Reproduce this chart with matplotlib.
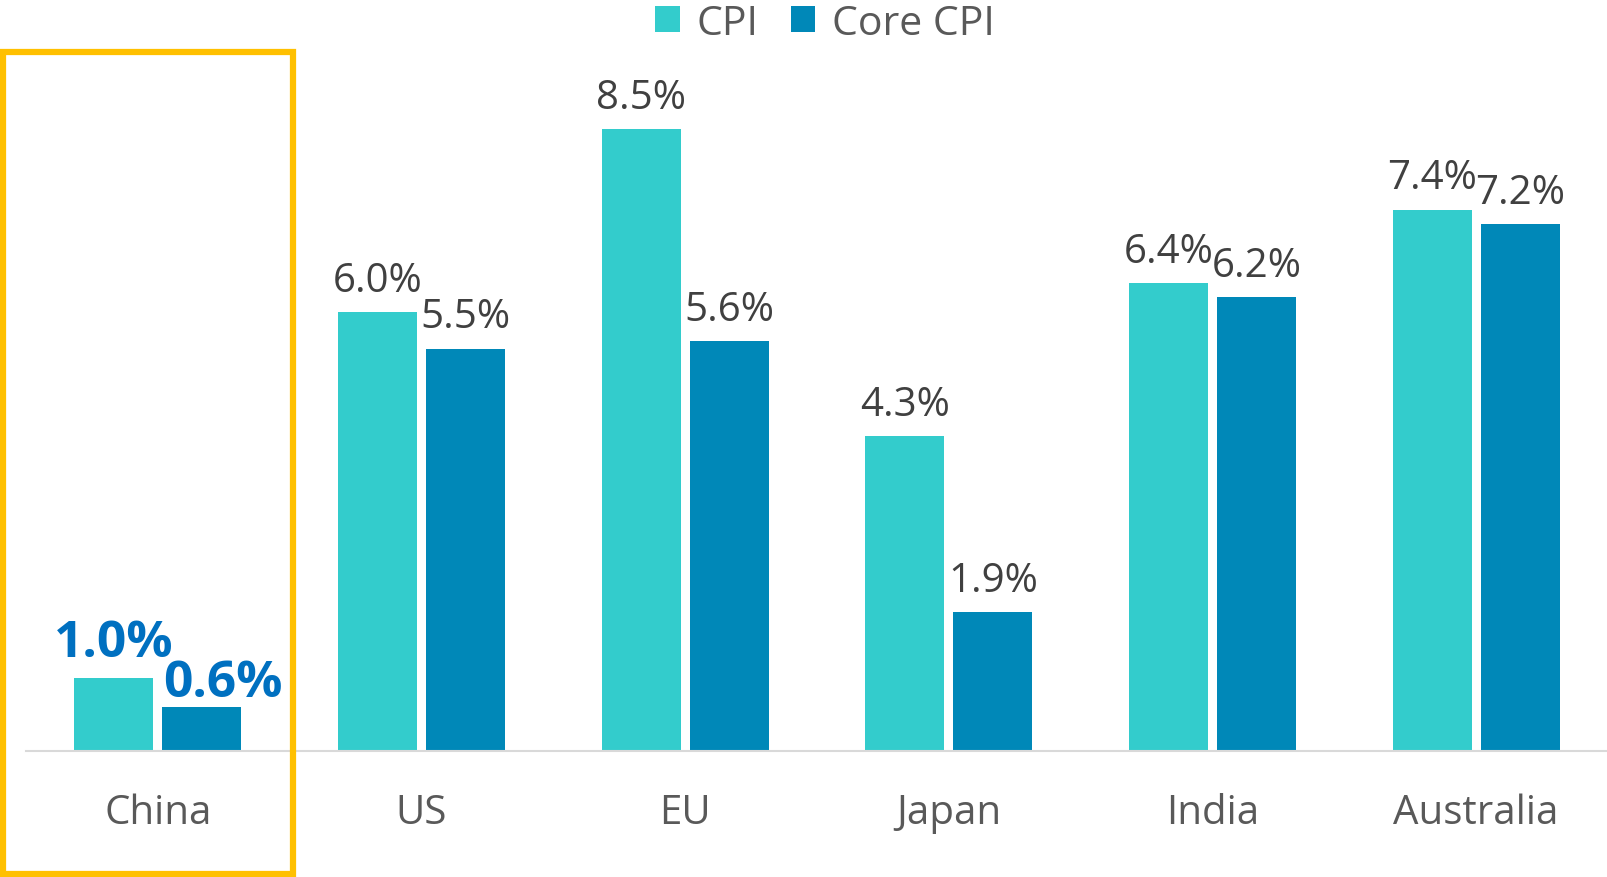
import numpy as np
import matplotlib.pyplot as plt
from matplotlib.patches import Rectangle

plt.rcParams['font.family'] = ['Open Sans', 'DejaVu Sans']

# Data
countries = ["China", "US", "EU", "Japan", "India", "Australia"]
cpi = [1.0, 6.0, 8.5, 4.3, 6.4, 7.4]
core_cpi = [0.6, 5.5, 5.6, 1.9, 6.2, 7.2]

cpi_color = '#33CCCC'
core_color = '#0088B8'
label_color = '#404040'
highlight = '#0070C0'

fig = plt.figure(figsize=(16.08, 8.78), dpi=100)
ax = fig.add_axes([26 / 1608, 126 / 878, 1 - 26 / 1608, 0.75])

x = np.arange(len(countries))
w = 0.30
off = 0.167
b1 = ax.bar(x - off, cpi, w, color=cpi_color, label='CPI')
b2 = ax.bar(x + off, core_cpi, w, color=core_color, label='Core CPI')

ax.set_xlim(-0.5, len(countries) - 0.5)
ax.set_ylim(0, 9.0)

# value labels
for i, (bar, v) in enumerate(zip(b1, cpi)):
    if i == 0:
        ax.annotate(f"{v:.1f}%", (bar.get_x() + bar.get_width() / 2, v), xytext=(0, 7),
                    textcoords='offset points', ha='center', va='bottom',
                    fontsize=37, fontweight='bold', color=highlight)
    else:
        ax.annotate(f"{v:.1f}%", (bar.get_x() + bar.get_width() / 2, v), xytext=(0, 8),
                    textcoords='offset points', ha='center', va='bottom',
                    fontsize=29, color=label_color)
for i, (bar, v) in enumerate(zip(b2, core_cpi)):
    if i == 0:
        ax.annotate(f"{v:.1f}%", (bar.get_x() + bar.get_width() / 2, v), xytext=(15, -1),
                    textcoords='offset points', ha='center', va='bottom',
                    fontsize=37, fontweight='bold', color=highlight)
    else:
        ax.annotate(f"{v:.1f}%", (bar.get_x() + bar.get_width() / 2, v), xytext=(0, 8),
                    textcoords='offset points', ha='center', va='bottom',
                    fontsize=29, color=label_color)

ax.set_xticks(x)
ax.set_xticklabels(countries, fontsize=29, color='#595959')
ax.tick_params(axis='x', length=0, pad=30)
ax.set_yticks([])
for s in ['top', 'right', 'left']:
    ax.spines[s].set_visible(False)
ax.spines['bottom'].set_color('#D9D9D9')
ax.spines['bottom'].set_linewidth(1.5)

leg = fig.legend(loc='upper center', bbox_to_anchor=(0.513, 1.037), ncol=2, frameon=False,
                 fontsize=29.5, handlelength=0.6, handleheight=0.6, handletextpad=0.4,
                 columnspacing=0.8, labelcolor='#595959')

# highlight box around China
fig.patches.append(Rectangle((3 / 1608, 3 / 878), 290 / 1608, 822 / 878,
                             transform=fig.transFigure, fill=False,
                             edgecolor='#FFC000', linewidth=4.5))

plt.savefig("out.png", dpi=100)
